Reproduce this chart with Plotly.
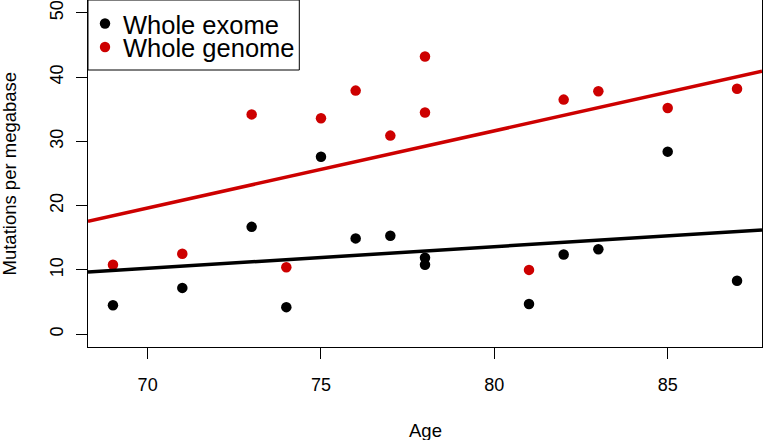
import numpy as np
import plotly.graph_objects as go

# ---- data ----
ages = [69, 71, 73, 74, 75, 76, 77, 78, 78, 81, 82, 83, 85, 87]
exome = [4.5, 7.2, 16.7, 4.2, 27.6, 14.9, 15.3, 11.9, 10.8, 4.7, 12.4, 13.2, 28.4, 8.3]
genome = [10.8, 12.5, 34.2, 10.4, 33.6, 37.9, 30.9, 43.2, 34.5, 10.0, 36.5, 37.8, 35.2, 38.2]
series_names = ["Whole exome", "Whole genome"]
x_ticks = [70, 75, 80, 85]
y_ticks = [0, 10, 20, 30, 40, 50]
x_title = "Age"
y_title = "Mutations per megabase"

# ---- styling ----
BLACK = "#000000"
RED = "#CD0000"
FONT = "Liberation Sans"
W, H = 763, 440
ML, MR, MT, MB = 88, 1, 0, 93
PW, PH = W - ML - MR, H - MT - MB

# R-style axis ranges (4% extension)
xmin, xmax = min(ages), max(ages)
pad = 0.04 * (xmax - xmin)
x_range = [xmin - pad, xmax + pad]
y_range = [-2, 52]

fig = go.Figure()

colors = [BLACK, RED]
for name, vals, col in zip(series_names, [exome, genome], colors):
    fig.add_trace(go.Scatter(x=ages, y=vals, mode="markers", name=name,
                             marker=dict(color=col, size=10.5, line=dict(width=0)),
                             showlegend=False, cliponaxis=False))
for name, vals, col in zip(series_names, [exome, genome], colors):
    slope, intercept = np.polyfit(ages, vals, 1)
    xs = np.array(x_range)
    fig.add_trace(go.Scatter(x=xs, y=intercept + slope * xs, mode="lines",
                             line=dict(color=col, width=3.5), showlegend=False,
                             hoverinfo="skip"))

axis_common = dict(showline=True, linecolor="black", linewidth=1, mirror=True,
                   showgrid=False, zeroline=False, ticks="outside", ticklen=11,
                   tickcolor="black", tickwidth=1, automargin=False,
                   tickfont=dict(family=FONT, size=18, color="black"))

fig.update_xaxes(range=x_range, tickvals=x_ticks, ticktext=[str(t) for t in x_ticks],
                 ticklabelstandoff=10, **axis_common)
fig.update_yaxes(range=y_range, tickvals=y_ticks, ticktext=[str(t) for t in y_ticks],
                 tickangle=-90, ticklabelstandoff=6, **axis_common)

annotations = [
    dict(text=x_title, x=0.5, y=0, xref="paper", yref="paper", xanchor="center",
         yanchor="middle", yshift=-83, showarrow=False,
         font=dict(family=FONT, size=18.5, color="black")),
    dict(text=y_title, x=0, y=0.5, xref="paper", yref="paper", xanchor="center",
         yanchor="middle", xshift=-79, textangle=-90, showarrow=False,
         font=dict(family=FONT, size=18.5, color="black")),
]

# legend box (R style)
def px_x(px):
    return (px - ML) / PW

def px_y(py):
    return (MT + PH - py) / PH

shapes = [dict(type="rect", xref="paper", yref="paper", x0=px_x(88), x1=px_x(299.3),
               y0=px_y(70), y1=px_y(0), line=dict(color="black", width=1),
               fillcolor="white", layer="above")]
legend_rows = [23.5, 47]
for name, col, ry in zip(series_names, colors, legend_rows):
    shapes.append(dict(type="circle", xref="paper", yref="paper", xsizemode="pixel",
                       ysizemode="pixel", xanchor=px_x(105), yanchor=px_y(ry),
                       x0=-5.2, x1=5.2, y0=-5.2, y1=5.2, fillcolor=col,
                       line=dict(width=0), layer="above"))
    annotations.append(dict(text=name, x=px_x(121), y=px_y(ry + 1), xref="paper",
                            yref="paper", xanchor="left", yanchor="middle",
                            showarrow=False,
                            font=dict(family=FONT, size=25.5, color="black")))

fig.update_layout(width=W, height=H, margin=dict(l=ML, r=MR, t=MT, b=MB, autoexpand=False),
                  plot_bgcolor="white", paper_bgcolor="white",
                  shapes=shapes, annotations=annotations, showlegend=False)

fig.write_html("out.html", config={"displayModeBar": False},
               post_script="document.body.style.margin='0';document.body.style.overflow='hidden';")
